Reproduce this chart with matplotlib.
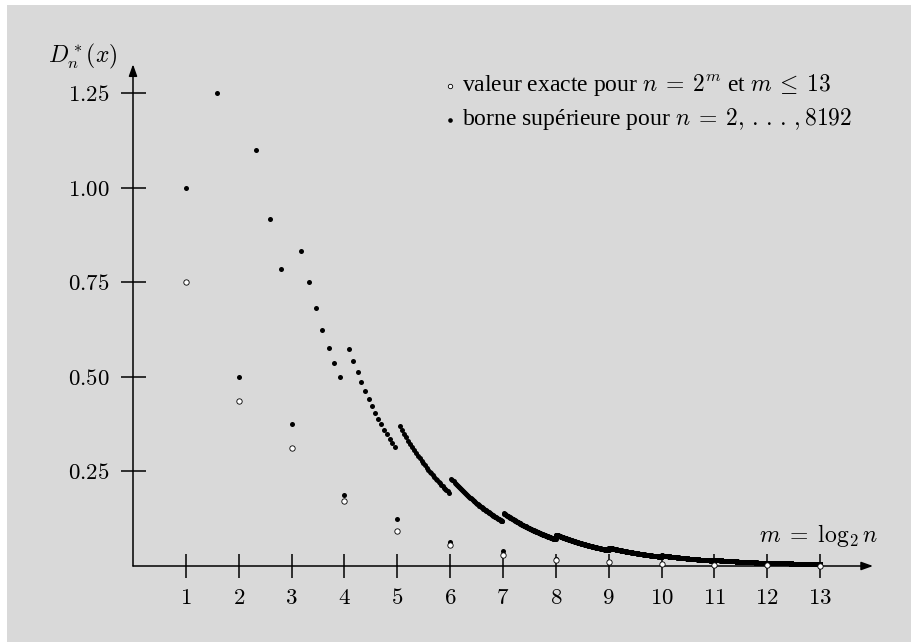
import numpy as np
import matplotlib
matplotlib.use("Agg")
import matplotlib.pyplot as plt
from matplotlib.patches import Rectangle

plt.rcParams['font.family'] = ['Liberation Serif', 'DejaVu Serif']
plt.rcParams['mathtext.fontset'] = 'cm'
plt.rcParams['font.size'] = 16

# m = log2 n for n = 2^m
m_pow2 = [1, 2, 3, 4, 5, 6, 7, 8, 9, 10, 11, 12, 13]
exact_pow2 = [0.75, 0.4375, 0.3125, 0.172, 0.092, 0.055, 0.030, 0.017,
              0.0095, 0.0052, 0.0028, 0.0015, 0.0008]
bound_pow2 = [1.0, 0.5, 0.375, 0.1875, 0.125, 0.0625, 0.039, 0.0195,
              0.0117, 0.0059, 0.0034, 0.0017, 0.001]

# upper bound for the small n (dots are distinct in the picture)
n_small = [3, 5, 6, 7, 9, 10, 11, 12, 13, 14, 15,
           17, 18, 19, 20, 21, 22, 23, 24, 25, 26, 27, 28, 29, 30, 31]
bound_small = [1.25, 1.10, 0.917, 0.786, 0.833, 0.75, 0.682, 0.625, 0.577,
               0.536, 0.50, 0.574, 0.542, 0.513, 0.488, 0.464, 0.443, 0.424,
               0.406, 0.39, 0.375, 0.361, 0.348, 0.336, 0.325, 0.315]

# octaves 2^k < n < 2^(k+1), k = 5..12: bound at n = 2^k + 1, decays like 1/n
octave_k = [5, 6, 7, 8, 9, 10, 11, 12]
octave_first = [0.371, 0.231, 0.1395, 0.0827, 0.0482, 0.0278, 0.0159, 0.0090]

n_big, bound_big = [], []
for k, y0 in zip(octave_k, octave_first):
    n0 = 2 ** k + 1
    nn = np.arange(n0, 2 ** (k + 1))
    n_big.append(nn)
    bound_big.append(y0 * n0 / nn)
n_big = np.concatenate(n_big)
bound_big = np.concatenate(bound_big)

n_all = np.concatenate([n_small, n_big, 2 ** np.array(m_pow2)])
b_all = np.concatenate([bound_small, bound_big, bound_pow2])

fig = plt.figure(figsize=(9.11, 6.42), dpi=100, facecolor='white')
fig.patches.append(Rectangle((7 / 911, 0), 1, 1 - 5 / 642, transform=fig.transFigure,
                             facecolor='#d9d9d9', edgecolor='none', zorder=-10))
ax = fig.add_axes([133 / 911, 76 / 642, 740 / 911, 501.7 / 642])
ax.set_facecolor('none')
ax.set_xlim(0, 14)
ax.set_ylim(0, 1.327)
for s in ax.spines.values():
    s.set_visible(False)

# axes with arrows
arr = dict(arrowstyle='-|>,head_length=0.5,head_width=0.18', color='black', lw=1.1,
           shrinkA=0, shrinkB=0, mutation_scale=14)
ax.annotate('', xy=(14, 0), xytext=(0, 0), arrowprops=arr, annotation_clip=False)
ax.annotate('', xy=(0, 1.327), xytext=(0, 0), arrowprops=arr, annotation_clip=False)

ax.scatter(np.log2(n_all), b_all, s=13, c='black', linewidths=0, zorder=3, clip_on=False)
ax.scatter(m_pow2, exact_pow2, s=15, facecolors='white', edgecolors='black',
           linewidths=0.6, zorder=4, clip_on=False)

ax.set_xticks(m_pow2)
ax.set_xticklabels(['$%d$' % m for m in m_pow2])
yt = [0.25, 0.5, 0.75, 1.0, 1.25]
ax.set_yticks(yt)
ax.set_yticklabels(['$%.2f$' % v for v in yt])
ax.tick_params(axis='x', direction='inout', length=17, width=1.1, pad=7, labelsize=16.5)
ax.tick_params(axis='y', direction='inout', length=18, width=1.1, pad=8, labelsize=16.5)

ax.text(14.1, 0.064, r'$m\;=\;\log_2 n$', ha='right', va='baseline', fontsize=17)
fig.text(117 / 911, 1 - 62 / 642, r'$D_n^*(x)$', ha='right', va='baseline', fontsize=17)

# legend
ax.scatter([6.0], [1.269], s=10, facecolors='white', edgecolors='black',
           linewidths=0.6, clip_on=False)
ax.scatter([6.0], [1.179], s=11, c='black', linewidths=0, clip_on=False)
ax.text(6.23, 1.257, r'valeur exacte pour $n\:=\:2^m$ et $m\:\leq\:13$',
        ha='left', va='baseline', fontsize=17)
ax.text(6.23, 1.167, r'borne supérieure pour $n\:=\:2,\,.\,.\,.\,,8192$',
        ha='left', va='baseline', fontsize=17)

fig.savefig('out.png', dpi=100, facecolor=fig.get_facecolor())
